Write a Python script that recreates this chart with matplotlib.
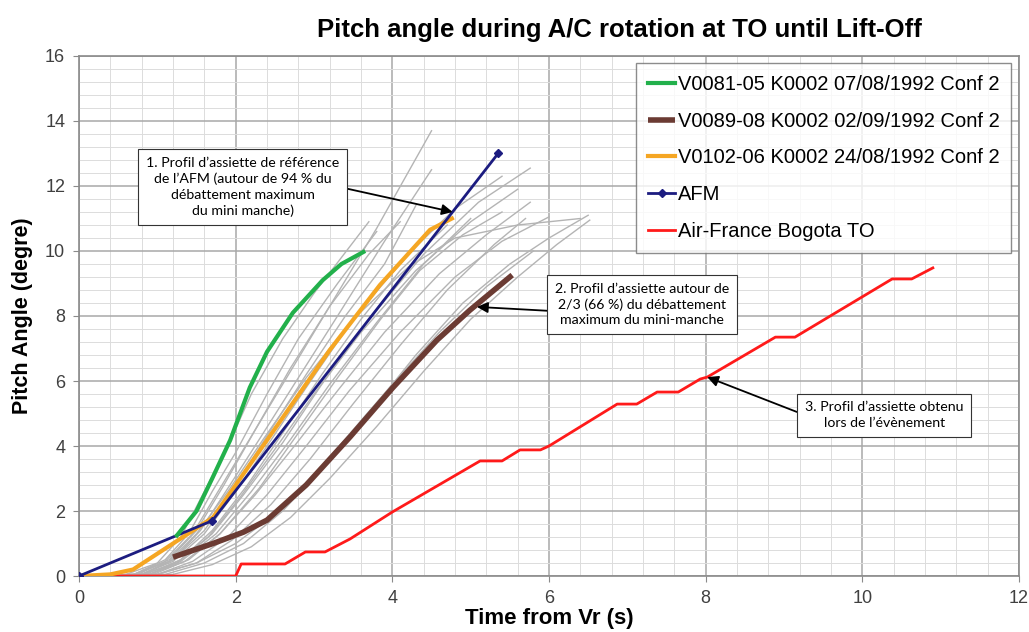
# Pitch angle during rotation - comparison chart
import numpy as np
import matplotlib
matplotlib.use('Agg')
import matplotlib.pyplot as plt
from matplotlib.ticker import MultipleLocator

# ---- data ----
# flight test curves (gray bundle), each as (t, pitch) lists
gray_t = [
    [0, 0.6, 1.0, 1.3, 1.6, 1.9, 2.2, 2.6, 3.0, 3.7],
    [0, 0.7, 1.1, 1.4, 1.7, 2.0, 2.4, 2.8, 3.3, 3.8],
    [0, 0.7, 1.1, 1.45, 1.8, 2.2, 2.7, 3.2, 3.8, 4.5],
    [0, 0.8, 1.2, 1.55, 1.9, 2.3, 2.8, 3.3, 3.9, 4.5],
    [0, 0.8, 1.2, 1.6, 2.0, 2.4, 2.9, 3.5, 4.2, 4.8, 5.4],
    [0, 0.9, 1.3, 1.7, 2.1, 2.6, 3.1, 3.7, 4.4, 5.1, 5.76],
    [0, 0.8, 1.25, 1.65, 2.05, 2.5, 3.0, 3.6, 4.3, 5.0, 5.6],
    [0, 0.9, 1.35, 1.8, 2.25, 2.75, 3.3, 3.9, 4.6, 5.2, 5.76],
    [0, 1.0, 1.45, 1.9, 2.4, 2.9, 3.45, 4.1, 4.8, 5.4, 6.0],
    [0, 0.7, 1.15, 1.5, 1.9, 2.35, 2.9, 3.5, 4.2, 4.8, 5.6, 6.4],
    [0, 1.1, 1.6, 2.1, 2.6, 3.1, 3.7, 4.3, 4.9, 5.5, 6.0, 6.5],
    [0, 1.2, 1.7, 2.2, 2.7, 3.2, 3.8, 4.4, 5.0, 5.6, 6.1, 6.52],
    [0, 1.0, 1.5, 2.0, 2.5, 3.0, 3.5, 4.0, 4.6, 5.2, 5.8],
    [0, 0.8, 1.2, 1.6, 2.0, 2.45, 2.9, 3.4, 3.9, 4.3],
    [0, 0.9, 1.3, 1.75, 2.2, 2.7, 3.2, 3.8, 4.4, 5.0],
    [0, 0.85, 1.3, 1.7, 2.15, 2.6, 3.1, 3.6, 4.1, 4.7],
    [0, 1.0, 1.5, 1.95, 2.45, 2.95, 3.5, 4.1, 4.7, 5.3, 5.7],
    [0, 0.75, 1.15, 1.5, 1.85, 2.25, 2.7, 3.2, 3.7, 4.1],
    [0, 0.95, 1.4, 1.8, 2.3, 2.8, 3.3, 3.85, 4.35, 4.9, 5.4],
]
gray_p = [
    [0, 0.05, 0.4, 1.2, 2.6, 4.0, 5.6, 7.3, 8.7, 10.9],
    [0, 0.05, 0.5, 1.3, 2.6, 3.8, 5.6, 7.3, 9.0, 10.6],
    [0, 0.05, 0.45, 1.3, 2.7, 4.3, 6.3, 8.3, 10.7, 13.7],
    [0, 0.05, 0.5, 1.4, 2.7, 4.2, 6.1, 8.0, 10.3, 12.5],
    [0, 0.05, 0.45, 1.3, 2.6, 4.0, 5.8, 7.9, 9.9, 11.3, 12.3],
    [0, 0.05, 0.5, 1.3, 2.5, 4.1, 5.9, 7.9, 9.9, 11.5, 12.55],
    [0, 0.05, 0.4, 1.2, 2.4, 3.9, 5.6, 7.5, 9.4, 10.9, 11.9],
    [0, 0.05, 0.45, 1.3, 2.5, 4.0, 5.7, 7.5, 9.3, 10.5, 11.5],
    [0, 0.05, 0.45, 1.2, 2.5, 4.0, 5.7, 7.5, 9.2, 10.3, 11.05],
    [0, 0.05, 0.45, 1.3, 2.6, 4.2, 6.1, 7.9, 9.5, 10.4, 10.8, 11.0],
    [0, 0.05, 0.4, 1.0, 2.0, 3.3, 5.0, 6.8, 8.4, 9.6, 10.4, 11.1],
    [0, 0.05, 0.35, 0.9, 1.8, 3.0, 4.6, 6.3, 7.9, 9.2, 10.2, 10.95],
    [0, 0.05, 0.4, 1.0, 1.9, 3.1, 4.5, 5.9, 7.5, 8.9, 10.0],
    [0, 0.05, 0.5, 1.4, 2.8, 4.5, 6.2, 8.0, 9.6, 11.4],
    [0, 0.05, 0.45, 1.3, 2.6, 4.2, 5.9, 7.8, 9.6, 11.0],
    [0, 0.05, 0.5, 1.4, 2.8, 4.4, 6.2, 7.9, 9.4, 10.8],
    [0, 0.05, 0.4, 1.1, 2.2, 3.6, 5.3, 7.1, 8.8, 10.2, 11.0],
    [0, 0.05, 0.5, 1.4, 2.8, 4.5, 6.4, 8.3, 9.9, 10.9],
    [0, 0.05, 0.5, 1.3, 2.7, 4.4, 6.1, 7.9, 9.4, 10.5, 11.2],
]

green_t = [1.25, 1.5, 1.7, 1.93, 2.18, 2.4, 2.73, 3.11, 3.35, 3.63]
green_p = [1.25, 2.0, 3.0, 4.18, 5.8, 6.9, 8.1, 9.1, 9.6, 9.97]

brown_t = [1.2, 1.71, 2.1, 2.4, 2.9, 3.46, 4.0, 4.57, 4.99, 5.53]
brown_p = [0.58, 1.0, 1.35, 1.72, 2.8, 4.28, 5.78, 7.26, 8.18, 9.26]

orange_t = [0, 0.4, 0.69, 1.2, 1.71, 2.4, 3.2, 3.84, 4.48, 4.76]
orange_p = [0, 0.05, 0.2, 1.0, 1.8, 4.18, 6.95, 8.95, 10.65, 11.0]

afm_t = [0, 1.7, 5.35]
afm_p = [0, 1.7, 13.0]

red_t = [0, 2.0, 2.07, 2.63, 2.89, 3.14, 3.46, 4.0, 5.12, 5.4, 5.63, 5.89, 6.0,
         6.87, 7.12, 7.38, 7.65, 7.93, 8.02, 8.89, 9.14, 10.38, 10.63, 10.9]
red_p = [0, 0, 0.37, 0.37, 0.74, 0.74, 1.14, 1.97, 3.54, 3.54, 3.88, 3.88, 4.0,
         5.29, 5.29, 5.66, 5.66, 6.06, 6.12, 7.35, 7.35, 9.14, 9.14, 9.48]

series_labels = ['V0081-05 K0002 07/08/1992 Conf 2',
                 'V0089-08 K0002 02/09/1992 Conf 2',
                 'V0102-06 K0002 24/08/1992 Conf 2',
                 'AFM',
                 'Air-France Bogota TO']

note1 = ('1. Profil d\u2019assiette de r\u00e9f\u00e9rence\n'
         'de l\u2019AFM (autour de 94 % du\n'
         'd\u00e9battement maximum\n'
         'du mini manche)')
note2 = ('2. Profil d\u2019assiette autour de\n'
         '2/3 (66 %) du d\u00e9battement\n'
         'maximum du mini-manche')
note3 = ('3. Profil d\u2019assiette obtenu\n'
         'lors de l\u2019\u00e9v\u00e8nement')

# ---- figure ----
plt.rcParams['font.family'] = ['Liberation Sans', 'DejaVu Sans']
fig = plt.figure(figsize=(10.29, 6.32), dpi=100)
ax = fig.add_axes([0.0768, 0.0886, 0.9135, 0.8228])

for t, p in zip(gray_t, gray_p):
    ax.plot(t, p, color='#b4b4b4', lw=1.0, zorder=2)

h_red, = ax.plot(red_t, red_p, color='#ff1a1a', lw=2.0, zorder=3)
h_brown, = ax.plot(brown_t, brown_p, color='#6b3b33', lw=4.0, zorder=4,
                   solid_capstyle='butt')
h_orange, = ax.plot(orange_t, orange_p, color='#f5a623', lw=3.0, zorder=4)
h_afm, = ax.plot(afm_t, afm_p, color='#1c1c80', lw=2.0, marker='D', ms=4.5,
                 zorder=5)
h_green, = ax.plot(green_t, green_p, color='#22b04b', lw=3.0, zorder=5)

ax.set_xlim(0, 12)
ax.set_ylim(0, 16)
ax.xaxis.set_major_locator(MultipleLocator(2))
ax.yaxis.set_major_locator(MultipleLocator(2))
ax.xaxis.set_minor_locator(MultipleLocator(0.4))
ax.yaxis.set_minor_locator(MultipleLocator(0.4))
ax.grid(which='major', color='#a8a8a8', lw=1.1, zorder=0)
ax.grid(which='minor', color='#dcdcdc', lw=0.7, zorder=0)
ax.set_axisbelow(True)
for s in ax.spines.values():
    s.set_color('#8a8a8a')
    s.set_linewidth(1.2)
ax.tick_params(which='major', direction='out', length=4, color='#8a8a8a',
               labelsize=13, labelcolor='#404040', pad=6)
ax.tick_params(which='minor', length=0)

ax.set_xlabel('Time from Vr (s)', fontsize=16, fontweight='bold', labelpad=1)
ax.set_ylabel('Pitch Angle (degre)', fontsize=15.5, fontweight='bold', labelpad=9)
fig.text(0.602, 0.953, 'Pitch angle during A/C rotation at TO until Lift-Off',
         ha='center', va='center', fontsize=18.5, fontweight='bold')

leg = ax.legend([h_green, h_brown, h_orange, h_afm, h_red], series_labels,
                loc='upper right', bbox_to_anchor=(0.992, 0.987), fontsize=14.5,
                frameon=True, fancybox=False, edgecolor='#707070',
                handlelength=1.3, handletextpad=0.15, labelspacing=0.88,
                borderpad=0.6, borderaxespad=0)
leg.get_frame().set_linewidth(1.0)

box = dict(boxstyle='square,pad=0.55', fc='white', ec='#333333', lw=0.8)
arrow = dict(arrowstyle='-|>', color='black', lw=1.3, mutation_scale=16,
             shrinkA=0, shrinkB=0)
ann_font = dict(fontsize=10.2, family=['Lato', 'DejaVu Sans'],
                ha='center', va='center', linespacing=1.35, zorder=10)

ax.annotate(note1, xy=(4.77, 11.2), xytext=(2.09, 11.97), bbox=box,
            arrowprops=dict(arrow, relpos=(1.0, 0.5)), **ann_font)
ax.annotate(note2, xy=(5.08, 8.28), xytext=(7.19, 8.35), bbox=box,
            arrowprops=dict(arrow, relpos=(0.0, 0.35)), **ann_font)
ax.annotate(note3, xy=(8.02, 6.12), xytext=(10.28, 4.95), bbox=box,
            arrowprops=dict(arrow, relpos=(0.0, 0.5)), **ann_font)

fig.savefig('out.png', dpi=100)
